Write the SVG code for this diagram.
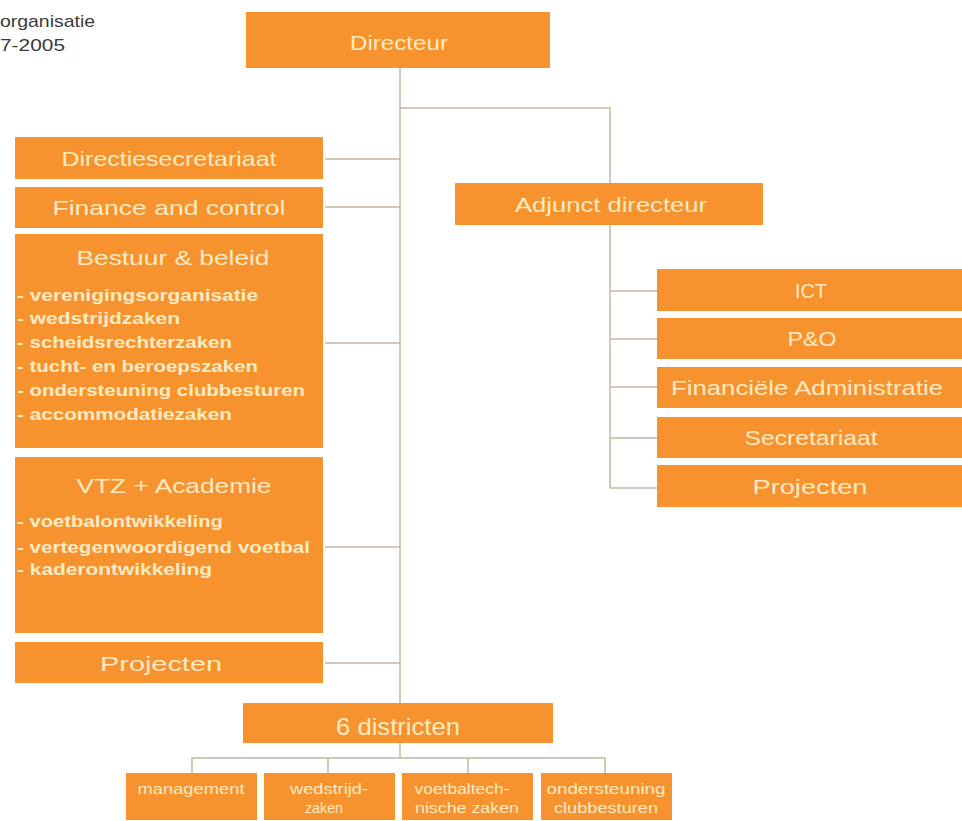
<svg xmlns="http://www.w3.org/2000/svg" width="962" height="821" viewBox="0 0 962 821">
<style>
.box{fill:#F7932F;}
.t{font-family:"Liberation Sans",Arial,sans-serif;fill:#FCEAC2;text-anchor:middle;font-size:21px;}
.big{font-size:24px;}
.li{font-family:"Liberation Sans",Arial,sans-serif;fill:#FCEAC2;font-size:17px;font-weight:bold;}
.sm{font-family:"Liberation Sans",Arial,sans-serif;fill:#FCEAC2;text-anchor:middle;font-size:14px;}
.hd{font-family:"Liberation Sans",Arial,sans-serif;fill:#3a3a3a;font-size:17px;}
.c{stroke:#C6B89F;stroke-width:1.5;fill:none;}
</style>
<rect width="962" height="821" fill="#ffffff"/>
<g id="title">
<text class="hd" x="0" y="27" textLength="95" lengthAdjust="spacingAndGlyphs">organisatie</text>
<text class="hd" x="0" y="51" textLength="65" lengthAdjust="spacingAndGlyphs">7-2005</text>
</g>
<g id="connectors">
<path class="c" d="M400 68 V703"/>
<path class="c" d="M400 108 H610 V183"/>
<path class="c" d="M610 225 V488"/>
<path class="c" d="M610 291 H657 M610 339 H657 M610 387 H657 M610 438 H657 M610 488 H657"/>
<path class="c" d="M325 159 H400 M325 207 H400 M325 343 H400 M325 547 H400 M325 663 H400"/>
<path class="c" d="M400 743 V758 M192 773 V758 H605 V773 M328 758 V773 M468 758 V773"/>
</g>
<g id="directeur">
<rect class="box" x="246" y="12" width="304" height="56"/>
<text class="t" x="399" y="50" textLength="98" lengthAdjust="spacingAndGlyphs">Directeur</text>
</g>
<g id="directiesecretariaat">
<rect class="box" x="15" y="137" width="308" height="42"/>
<text class="t" x="169" y="166" textLength="215" lengthAdjust="spacingAndGlyphs">Directiesecretariaat</text>
</g>
<g id="finance">
<rect class="box" x="15" y="187" width="308" height="41"/>
<text class="t" x="169" y="215" textLength="233" lengthAdjust="spacingAndGlyphs">Finance and control</text>
</g>
<g id="bestuur">
<rect class="box" x="15" y="234" width="308" height="214"/>
<text class="t" x="173" y="265" textLength="193" lengthAdjust="spacingAndGlyphs">Bestuur &amp; beleid</text>
<text class="li" x="17" y="301" textLength="241" lengthAdjust="spacingAndGlyphs">- verenigingsorganisatie</text>
<text class="li" x="17" y="324" textLength="163" lengthAdjust="spacingAndGlyphs">- wedstrijdzaken</text>
<text class="li" x="17" y="348" textLength="215" lengthAdjust="spacingAndGlyphs">- scheidsrechterzaken</text>
<text class="li" x="17" y="372" textLength="241" lengthAdjust="spacingAndGlyphs">- tucht- en beroepszaken</text>
<text class="li" x="17" y="396" textLength="288" lengthAdjust="spacingAndGlyphs">- ondersteuning clubbesturen</text>
<text class="li" x="17" y="420" textLength="215" lengthAdjust="spacingAndGlyphs">- accommodatiezaken</text>
</g>
<g id="vtz">
<rect class="box" x="15" y="457" width="308" height="176"/>
<text class="t" x="174" y="493" textLength="195" lengthAdjust="spacingAndGlyphs">VTZ  + Academie</text>
<text class="li" x="17" y="527" textLength="206" lengthAdjust="spacingAndGlyphs">- voetbalontwikkeling</text>
<text class="li" x="17" y="553" textLength="293" lengthAdjust="spacingAndGlyphs">- vertegenwoordigend voetbal</text>
<text class="li" x="17" y="575" textLength="195" lengthAdjust="spacingAndGlyphs">- kaderontwikkeling</text>
</g>
<g id="projecten-links">
<rect class="box" x="15" y="642" width="308" height="41"/>
<text class="t" x="161" y="671" textLength="122" lengthAdjust="spacingAndGlyphs">Projecten</text>
</g>
<g id="adjunct">
<rect class="box" x="455" y="183" width="308" height="42"/>
<text class="t" x="611" y="212" textLength="192" lengthAdjust="spacingAndGlyphs">Adjunct directeur</text>
</g>
<g id="ict">
<rect class="box" x="657" y="269" width="305" height="42"/>
<text class="t" x="811" y="298" textLength="32" lengthAdjust="spacingAndGlyphs">ICT</text>
</g>
<g id="peno">
<rect class="box" x="657" y="318" width="305" height="41"/>
<text class="t" x="812" y="346" textLength="49" lengthAdjust="spacingAndGlyphs">P&amp;O</text>
</g>
<g id="financiele">
<rect class="box" x="657" y="367" width="305" height="41"/>
<text class="t" x="807" y="395" textLength="272" lengthAdjust="spacingAndGlyphs">Financiële Administratie</text>
</g>
<g id="secretariaat">
<rect class="box" x="657" y="417" width="305" height="41"/>
<text class="t" x="811" y="445" textLength="133" lengthAdjust="spacingAndGlyphs">Secretariaat</text>
</g>
<g id="projecten-rechts">
<rect class="box" x="657" y="465" width="305" height="42"/>
<text class="t" x="810" y="494" textLength="115" lengthAdjust="spacingAndGlyphs">Projecten</text>
</g>
<g id="districten">
<rect class="box" x="243" y="703" width="310" height="40"/>
<text class="t big" x="398" y="735" textLength="124" lengthAdjust="spacingAndGlyphs">6 districten</text>
</g>
<g id="management">
<rect class="box" x="126" y="773" width="131" height="47"/>
<text class="sm" x="191" y="794" textLength="107" lengthAdjust="spacingAndGlyphs">management</text>
</g>
<g id="wedstrijdzaken">
<rect class="box" x="264" y="773" width="131" height="47"/>
<text class="sm" x="329" y="794" textLength="78" lengthAdjust="spacingAndGlyphs">wedstrijd-</text>
<text class="sm" x="324" y="813" textLength="38" lengthAdjust="spacingAndGlyphs">zaken</text>
</g>
<g id="voetbaltechnische">
<rect class="box" x="402" y="773" width="131" height="47"/>
<text class="sm" x="462" y="794" textLength="95" lengthAdjust="spacingAndGlyphs">voetbaltech-</text>
<text class="sm" x="467" y="813" textLength="104" lengthAdjust="spacingAndGlyphs">nische zaken</text>
</g>
<g id="ondersteuning">
<rect class="box" x="541" y="773" width="131" height="47"/>
<text class="sm" x="606" y="794" textLength="119" lengthAdjust="spacingAndGlyphs">ondersteuning</text>
<text class="sm" x="606" y="813" textLength="104" lengthAdjust="spacingAndGlyphs">clubbesturen</text>
</g>
</svg>
